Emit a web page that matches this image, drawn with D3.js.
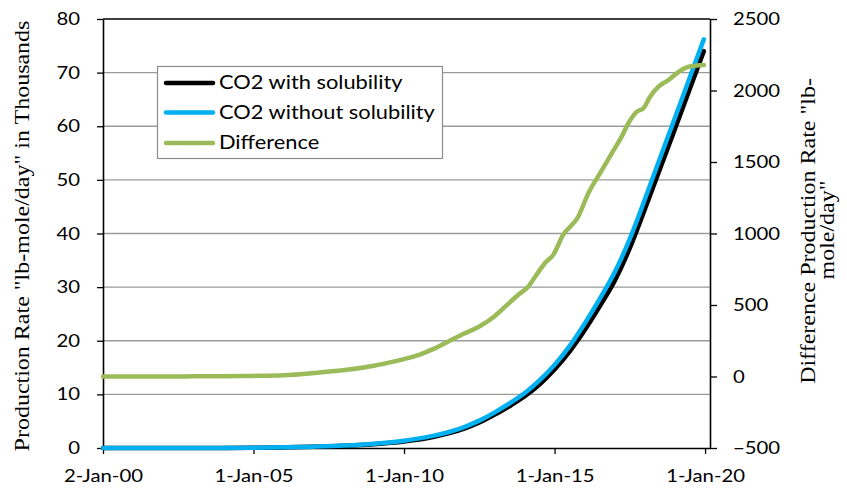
<!DOCTYPE html>
<html>
<head>
<meta charset="utf-8">
<script src="https://cdn.jsdelivr.net/npm/d3@7"></script>
<style>
  body { margin: 0; background: #fff; }
  svg { display: block; }
</style>
</head>
<body>
<svg id="chart" width="847" height="492"></svg>
<script>
// ---- data -------------------------------------------------------------
// CO2 production rate, thousands of lb-mole/day
const rateDates = [
  "2000-01-02","2002-01-01","2004-01-01","2005-01-01","2006-01-01","2007-01-01",
  "2008-01-01","2009-01-01","2010-01-01","2011-01-01","2012-01-01","2012-07-02",
  "2013-01-01","2013-07-02","2014-01-01","2014-07-02","2015-01-01","2015-07-02",
  "2016-01-01","2016-07-02","2017-01-01","2017-07-02","2018-01-01","2018-07-02",
  "2019-01-01","2019-07-02","2019-12-17"
];
const rateWithSolubility = [
  0, 0, 0.018, 0.046, 0.11, 0.23,
  0.41, 0.72, 1.23, 2.11, 3.6, 4.75,
  6.18, 7.79, 9.6, 11.84, 14.64, 17.98,
  21.97, 26.43, 31.21, 37.25, 44.52, 51.97,
  59.5, 67.04, 74.02
];
const rateWithoutSolubility = [
  0, 0, 0.02, 0.05, 0.12, 0.25,
  0.45, 0.8, 1.35, 2.3, 3.9, 5.1,
  6.6, 8.3, 10.2, 12.6, 15.5, 19.0,
  23.2, 27.8, 32.8, 39.0, 46.4, 54.0,
  61.6, 69.2, 76.2
];

// Difference between the two runs, lb-mole/day (secondary axis)
const diffDates = [
  "2000-01-02","2001-01-01","2002-01-01","2003-01-01","2004-01-01","2004-12-01",
  "2006-01-01","2007-02-15","2008-03-25","2009-01-01","2009-07-02","2010-01-01",
  "2010-07-02","2011-01-01","2011-07-02","2012-01-01","2012-07-02","2013-01-01",
  "2013-07-01","2013-10-15","2014-02-15","2014-05-25","2014-09-05","2014-12-15",
  "2015-04-15","2015-10-15","2016-02-15","2016-07-05","2016-11-25","2017-03-25",
  "2017-06-15","2017-09-25","2017-12-15","2018-03-05","2018-06-15","2018-10-15",
  "2019-02-15","2019-06-15","2019-12-17"
];
const diffValues = [
  0, 0, 0, 1, 2, 4,
  8, 26, 50, 75, 97, 122,
  152, 195, 248, 300, 350, 420,
  515, 570, 628, 710, 792, 850,
  990, 1117, 1281, 1421, 1561, 1677,
  1771, 1852, 1876, 1957, 2027, 2073,
  2131, 2166, 2178
];

// axis ticks
const xTickDates  = ["2000-01-02","2005-01-01","2010-01-01","2015-01-01","2020-01-01"];
const xTickLabels = ["2-Jan-00","1-Jan-05","1-Jan-10","1-Jan-15","1-Jan-20"];
const leftTicks   = [0, 10, 20, 30, 40, 50, 60, 70, 80];
const rightTicks  = [-500, 0, 500, 1000, 1500, 2000, 2500];

const seriesNames  = ["CO2 with solubility", "CO2 without solubility", "Difference"];
const seriesColors = ["#000000", "#00B0F0", "#9BBB59"];

// ---- layout -----------------------------------------------------------
const plot = { left: 103, right: 710, top: 19, bottom: 448 };
const sansFont = "Lato, 'Open Sans', sans-serif";
const serifFont = "'Liberation Serif', 'Times New Roman', serif";
const sansStretch = 1.16;   // wide-set label lettering
const serifStretch = 1.2;

const parse = d3.timeParse("%Y-%m-%d");
const svg = d3.select("#chart");

const x = d3.scaleTime()
  .domain([parse("2000-01-02"), parse("2020-03-01")])
  .range([plot.left, plot.right]);
const yL = d3.scaleLinear().domain([0, 80]).range([plot.bottom, plot.top]);
const yR = d3.scaleLinear().domain([-500, 2500]).range([plot.bottom, plot.top]);

// horizontal gridlines
svg.append("g")
  .selectAll("line")
  .data(leftTicks.filter(v => v > 0 && v < 80))
  .join("line")
  .attr("x1", plot.left).attr("x2", plot.right)
  .attr("y1", d => yL(d)).attr("y2", d => yL(d))
  .attr("stroke", "#9a9a9a").attr("stroke-width", 1.3);

// stretch helper for axis tick labels
function stretchLabels(sel, sx) {
  sel.selectAll("text").each(function () {
    const t = d3.select(this);
    const tx = +t.attr("x") || 0;
    const ty = +t.attr("y") || 0;
    t.attr("x", 0).attr("y", 0)
     .attr("transform", `translate(${tx},${ty}) scale(${sx},1)`);
  });
}

function styleAxis(g) {
  g.selectAll("path.domain").attr("stroke", "#000").attr("stroke-width", 1.6);
  g.selectAll(".tick line").attr("stroke", "#000").attr("stroke-width", 1.3);
  g.selectAll("text")
    .attr("fill", "#000")
    .style("font-family", sansFont)
    .style("font-size", "17.5px");
}

// left axis
const gL = svg.append("g")
  .attr("transform", `translate(${plot.left},0)`)
  .call(d3.axisLeft(yL).tickValues(leftTicks).tickSizeInner(6).tickSizeOuter(0).tickPadding(17));
styleAxis(gL);
stretchLabels(gL, sansStretch);

// right axis
const gR = svg.append("g")
  .attr("transform", `translate(${plot.right},0)`)
  .call(d3.axisRight(yR).tickValues(rightTicks).tickFormat(d3.format("d"))
    .tickSizeInner(7).tickSizeOuter(0).tickPadding(16));
styleAxis(gR);
stretchLabels(gR, sansStretch);

// bottom axis
const gB = svg.append("g")
  .attr("transform", `translate(0,${plot.bottom})`)
  .call(d3.axisBottom(x)
    .tickValues(xTickDates.map(parse))
    .tickFormat((d, i) => xTickLabels[i])
    .tickSizeInner(6).tickSizeOuter(0).tickPadding(16));
styleAxis(gB);
stretchLabels(gB, sansStretch);
gB.selectAll("text").attr("dy", "0.71em");

// top border of plot area
svg.append("line")
  .attr("x1", plot.left).attr("x2", plot.right)
  .attr("y1", plot.top).attr("y2", plot.top)
  .attr("stroke", "#000").attr("stroke-width", 1.6);

// ---- series -----------------------------------------------------------
const rateRows = rateDates.map((d, i) => ({
  date: parse(d), withSol: rateWithSolubility[i], withoutSol: rateWithoutSolubility[i]
}));
const diffRows = diffDates.map((d, i) => ({ date: parse(d), value: diffValues[i] }));

const lineWith = d3.line().x(d => x(d.date)).y(d => yL(d.withSol)).curve(d3.curveMonotoneX);
const lineWithout = d3.line().x(d => x(d.date)).y(d => yL(d.withoutSol)).curve(d3.curveMonotoneX);
const lineDiff = d3.line().x(d => x(d.date)).y(d => yR(d.value)).curve(d3.curveMonotoneX);

function drawSeries(rows, gen, color) {
  svg.append("path").datum(rows).attr("d", gen)
    .attr("fill", "none").attr("stroke", color).attr("stroke-width", 4.5)
    .attr("stroke-linejoin", "round").attr("stroke-linecap", "round");
}
drawSeries(rateRows, lineWith, seriesColors[0]);
drawSeries(rateRows, lineWithout, seriesColors[1]);
drawSeries(diffRows, lineDiff, seriesColors[2]);

// ---- legend -----------------------------------------------------------
const legend = svg.append("g");
legend.append("rect")
  .attr("x", 157.5).attr("y", 66.5).attr("width", 285).attr("height", 92)
  .attr("fill", "#fff").attr("stroke", "#8c8c8c").attr("stroke-width", 1.2);
const legendRowY = [83, 112.5, 143];
seriesNames.forEach((name, i) => {
  const row = legend.append("g").attr("transform", `translate(0,${legendRowY[i]})`);
  row.append("line").attr("x1", 166).attr("x2", 213).attr("y1", 0).attr("y2", 0)
    .attr("stroke", seriesColors[i]).attr("stroke-width", 4.5).attr("stroke-linecap", "round");
  row.append("text")
    .attr("transform", `translate(219,0) scale(1.18,1)`)
    .attr("dy", "0.35em")
    .style("font-family", sansFont).style("font-size", "18.5px")
    .text(name);
});

// ---- axis titles ------------------------------------------------------
svg.append("text")
  .attr("transform", `translate(29,236) rotate(-90) scale(${serifStretch},1)`)
  .attr("text-anchor", "middle")
  .style("font-family", serifFont).style("font-size", "20px")
  .text("Production Rate \"lb-mole/day\" in Thousands");

const rTitle = svg.append("g");
rTitle.append("text")
  .attr("transform", `translate(815,231) rotate(-90) scale(${serifStretch},1)`)
  .attr("text-anchor", "middle")
  .style("font-family", serifFont).style("font-size", "20px")
  .text("Difference Production Rate \"lb-");
rTitle.append("text")
  .attr("transform", `translate(834,230) rotate(-90) scale(${serifStretch},1)`)
  .attr("text-anchor", "middle")
  .style("font-family", serifFont).style("font-size", "20px")
  .text("mole/day\"");
</script>
</body>
</html>
